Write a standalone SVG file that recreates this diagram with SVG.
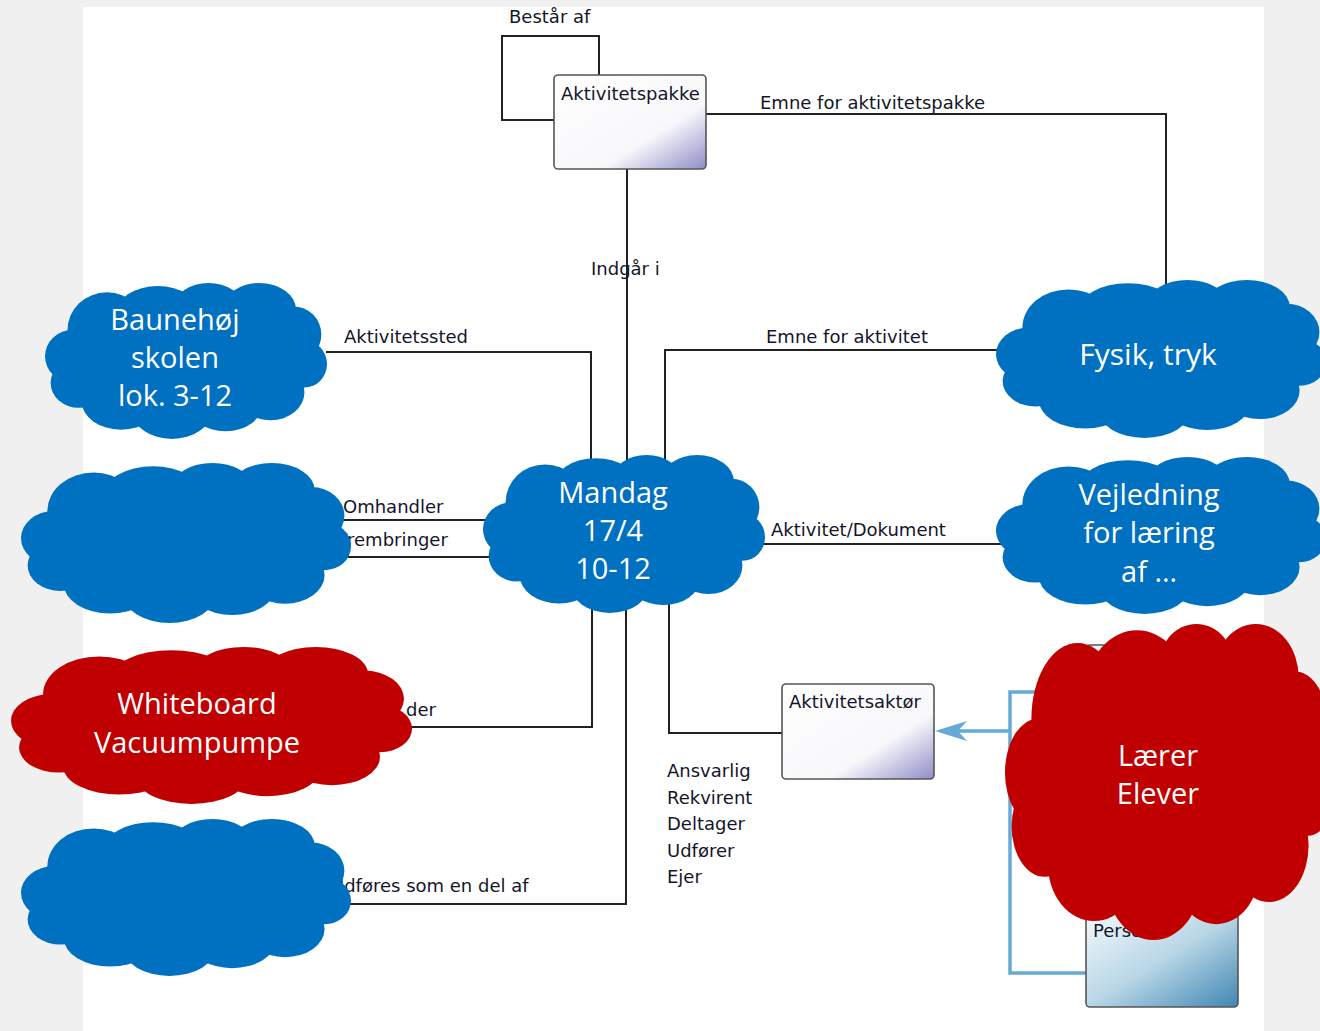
<svg xmlns="http://www.w3.org/2000/svg" xmlns:xlink="http://www.w3.org/1999/xlink" width="1320" height="1031" viewBox="0 0 1320 1031">
<style>
.ln{fill:none;stroke:#222;stroke-width:2}
.bl{fill:none;stroke:#65a9d6;stroke-width:3.5}
.lbl{font-family:"DejaVu Sans",sans-serif;font-size:18px;fill:#15152a}
.ct{font-family:"Open Sans","Noto Sans",sans-serif;font-size:29px;fill:#fff;text-anchor:middle}
.box{stroke:#555;stroke-width:1.6}
.blue{fill:#0070c0}
.red{fill:#c00000}
</style>
<defs>
<linearGradient id="gw" x1="0" y1="0" x2="1" y2="1">
<stop offset="0" stop-color="#ffffff"/>
<stop offset="0.65" stop-color="#f8f8fb"/>
<stop offset="1" stop-color="#8f8cc8"/>
</linearGradient>
<linearGradient id="gb" x1="0" y1="0" x2="1" y2="1">
<stop offset="0" stop-color="#f4f9fc"/>
<stop offset="0.5" stop-color="#b8d6e6"/>
<stop offset="1" stop-color="#3f86b4"/>
</linearGradient>
<symbol id="cloud" viewBox="0 0 100 100" preserveAspectRatio="none">
<ellipse cx="10" cy="47" rx="10" ry="17"/>
<ellipse cx="22" cy="30" rx="14" ry="24"/>
<ellipse cx="40" cy="20" rx="15" ry="18"/>
<ellipse cx="58" cy="15" rx="12" ry="15"/>
<ellipse cx="76" cy="17" rx="13" ry="17"/>
<ellipse cx="88" cy="33" rx="10" ry="18"/>
<ellipse cx="92" cy="52" rx="8" ry="15"/>
<ellipse cx="80" cy="70" rx="12" ry="18"/>
<ellipse cx="64" cy="78" rx="13" ry="17"/>
<ellipse cx="45" cy="82" rx="14" ry="18"/>
<ellipse cx="27" cy="76" rx="14" ry="18"/>
<ellipse cx="12" cy="64" rx="10" ry="16"/>
<ellipse cx="50" cy="50" rx="40" ry="35"/>
</symbol>
</defs>
<rect x="0" y="0" width="1320" height="1031" fill="#f0f0f0"/>
<rect x="83" y="7" width="1181" height="1024" fill="#fff"/>

<g id="connectors">
<path class="ln" d="M599,75 V36 H502 V120 H554"/>
<path class="ln" d="M706,114 H1166 V300"/>
<path class="ln" d="M627,169 V470"/>
<path class="ln" d="M326,352 H591 V470"/>
<path class="ln" d="M665,470 V350 H1005"/>
<path class="ln" d="M330,520 H495"/>
<path class="ln" d="M330,557 H495"/>
<path class="ln" d="M755,544 H1005"/>
<path class="ln" d="M400,727 H592 V600"/>
<path class="ln" d="M340,904 H626 V600"/>
<path class="ln" d="M669,600 V733 H782"/>
<path class="bl" d="M1040,692 H1010 V973 H1086"/>
<path class="bl" d="M1010,731 H950"/>
<path d="M935,731 L967,721 L958,731 L967,741 Z" fill="#65a9d6"/>
<text class="lbl" x="509" y="23">Består af</text>
<text class="lbl" x="760" y="109">Emne for aktivitetspakke</text>
<text class="lbl" x="591" y="275">Indgår i</text>
<text class="lbl" x="344" y="343">Aktivitetssted</text>
<text class="lbl" x="766" y="343">Emne for aktivitet</text>
<text class="lbl" x="343" y="513">Omhandler</text>
<text class="lbl" x="338" y="546">Frembringer</text>
<text class="lbl" x="771" y="536">Aktivitet/Dokument</text>
<text class="lbl" x="406" y="716">der</text>
<text class="lbl" x="331" y="892">Udføres som en del af</text>
<text class="lbl" x="667" y="777">Ansvarlig</text>
<text class="lbl" x="667" y="803.5">Rekvirent</text>
<text class="lbl" x="667" y="830">Deltager</text>
<text class="lbl" x="667" y="856.5">Udfører</text>
<text class="lbl" x="667" y="883">Ejer</text>
</g>

<g id="aktivitetspakke">
<rect class="box" x="554" y="75" width="152" height="94" rx="4" fill="url(#gw)"/>
<text class="lbl" x="561" y="100">Aktivitetspakke</text>
</g>
<g id="aktivitetsaktor">
<rect class="box" x="782" y="684" width="152" height="95" rx="4" fill="url(#gw)"/>
<text class="lbl" x="789" y="708">Aktivitetsaktør</text>
</g>
<g id="hidden-box">
<rect class="box" x="1086" y="645" width="152" height="95" rx="4" fill="url(#gb)"/>
</g>
<g id="person">
<rect class="box" x="1086" y="913" width="152" height="94" rx="4" fill="url(#gb)"/>
<text class="lbl" x="1093" y="937">Person</text>
</g>

<g id="cloud-baunehoj">
<use xlink:href="#cloud" class="blue" x="45" y="283" width="282" height="156"/>
<text class="ct" x="175" y="330">Baunehøj</text>
<text class="ct" x="175" y="368">skolen</text>
<text class="ct" x="175" y="406">lok. 3-12</text>
</g>
<g id="cloud-blue-2">
<use xlink:href="#cloud" class="blue" x="21" y="463" width="330" height="160"/>
</g>
<g id="cloud-whiteboard">
<use xlink:href="#cloud" class="red" x="11" y="647" width="401" height="157"/>
<text class="ct" x="197" y="714">Whiteboard</text>
<text class="ct" x="197" y="753">Vacuumpumpe</text>
</g>
<g id="cloud-blue-4">
<use xlink:href="#cloud" class="blue" x="21" y="819" width="330" height="157"/>
</g>
<g id="cloud-mandag">
<use xlink:href="#cloud" class="blue" x="483" y="455" width="282" height="158"/>
<text class="ct" x="613" y="503">Mandag</text>
<text class="ct" x="613" y="541">17/4</text>
<text class="ct" x="613" y="579">10-12</text>
</g>
<g id="cloud-fysik">
<use xlink:href="#cloud" class="blue" x="996" y="280" width="330" height="158"/>
<text class="ct" x="1148" y="365" style="font-size:30px">Fysik, tryk</text>
</g>
<g id="cloud-vejledning">
<use xlink:href="#cloud" class="blue" x="996" y="457" width="330" height="157"/>
<text class="ct" x="1149" y="505">Vejledning</text>
<text class="ct" x="1149" y="543">for læring</text>
<text class="ct" x="1149" y="582">af …</text>
</g>
<g id="cloud-laerer">
<use xlink:href="#cloud" class="red" x="1005" y="624" width="330" height="316"/>
<text class="ct" x="1158" y="766">Lærer</text>
<text class="ct" x="1158" y="804">Elever</text>
</g>
</svg>
